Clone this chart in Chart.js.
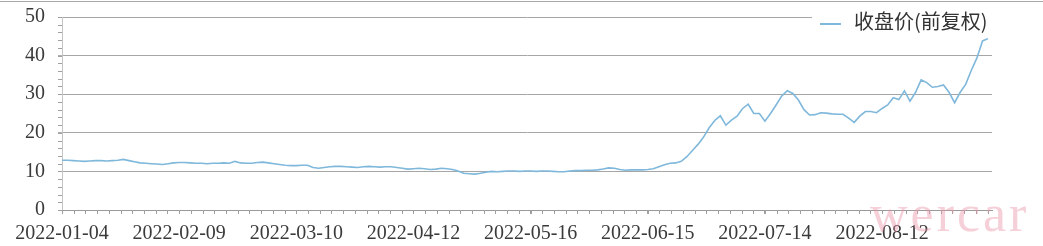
<!DOCTYPE html>
<html lang="zh-CN">
<head>
  <meta charset="UTF-8">
  <title>收盘价(前复权)</title>
  <script src="https://cdn.jsdelivr.net/npm/chart.js"></script>
  <style>
    body { margin: 0; background: #fff; }
    #wrap { position: relative; width: 1043px; height: 246px; overflow: hidden; }
    #topline { position: absolute; left: 0; top: 1px; width: 1043px; height: 0; border-top: 1px solid #a8a8a8; }
    #legend { position: absolute; left: 812px; top: 7px; width: 180px; height: 28px; background: #fff;
              font: 20px "Noto Sans CJK SC", sans-serif; color: #333; line-height: 28px; white-space: nowrap; }
    #legend .swatch { display: inline-block; width: 21px; height: 0; border-top: 2px solid #7fb8db;
                      vertical-align: middle; margin: 0 13px 0 8px; }
    #mark { position: absolute; left: 870px; top: 184px; font: 52px "Liberation Serif", serif;
            letter-spacing: 3px; color: rgba(236, 150, 168, 0.45); }
  </style>
</head>
<body>
<div id="wrap">
  <canvas id="chart" width="1043" height="246"></canvas>
  <div id="topline"></div>
  <div id="legend"><span class="swatch"></span>收盘价(前复权)</div>
  <div id="mark">wercar</div>
</div>

<script>
  // trading days from 2022-01-04, labelled every 21 sessions
  const tickIndex = [0, 21, 42, 63, 84, 105, 126, 147];
  const tickLabels = ['2022-01-04', '2022-02-09', '2022-03-10', '2022-04-12',
                      '2022-05-16', '2022-06-15', '2022-07-14', '2022-08-12'];

  // closing price (forward adjusted), one value per session
  const closes = [
    12.9, 12.9, 12.8, 12.7, 12.6, 12.7, 12.8, 12.8, 12.7, 12.8,
    12.9, 13.1, 12.8, 12.5, 12.2, 12.1, 12.0, 11.9, 11.8, 12.0,
    12.2, 12.3, 12.3, 12.2, 12.1, 12.1, 12.0, 12.1, 12.1, 12.2,
    12.1, 12.6, 12.2, 12.1, 12.1, 12.3, 12.4, 12.2, 12.0, 11.8,
    11.6, 11.5, 11.5, 11.6, 11.6, 11.0, 10.8, 11.0, 11.2, 11.3,
    11.3, 11.2, 11.1, 11.0, 11.2, 11.3, 11.2, 11.1, 11.2, 11.2,
    11.0, 10.8, 10.6, 10.7, 10.8, 10.7, 10.5, 10.6, 10.8, 10.7,
    10.5, 10.1, 9.5, 9.4, 9.3, 9.5, 9.8, 10.0, 9.9, 10.0,
    10.1, 10.1, 10.0, 10.1, 10.1, 10.0, 10.1, 10.1, 10.0, 9.9,
    9.9, 10.1, 10.2, 10.2, 10.3, 10.3, 10.4, 10.6, 10.9, 10.8,
    10.5, 10.3, 10.4, 10.4, 10.4, 10.5, 10.7, 11.2, 11.7, 12.1,
    12.2, 12.6, 13.8, 15.4, 17.0, 18.9, 21.3, 23.2, 24.4, 22.0,
    23.3, 24.3, 26.3, 27.4, 25.0, 25.0, 23.0, 25.0, 27.2, 29.5,
    30.9, 30.2, 28.5, 26.0, 24.6, 24.7, 25.2, 25.1, 24.9, 24.8,
    24.8, 23.8, 22.7, 24.3, 25.5, 25.5, 25.2, 26.3, 27.2, 29.1,
    28.6, 30.9, 28.2, 30.5, 33.7, 33.0, 31.8, 32.0, 32.4, 30.5,
    27.8, 30.5, 32.6, 36.2, 39.4, 43.8, 44.4
  ];

  const yTicks = [0, 10, 20, 30, 40, 50];

  // small ticks between the labelled ones
  const minorTicks = {
    id: 'minorTicks',
    afterDraw(chart) {
      const { ctx, scales: { x, y } } = chart;
      ctx.save();
      ctx.strokeStyle = '#a0a0a0';
      ctx.lineWidth = 1;
      ctx.beginPath();
      for (let v = 0; v <= x.max + 0.01; v += 2.1) {
        const px = Math.round(x.getPixelForValue(v)) + 0.5;
        ctx.moveTo(px, y.bottom);
        ctx.lineTo(px, y.bottom + 4);
      }
      for (let v = 0; v <= 50; v += 2) {
        const py = Math.round(y.getPixelForValue(v)) + 0.5;
        ctx.moveTo(x.left - 4, py);
        ctx.lineTo(x.left, py);
      }
      ctx.stroke();
      ctx.restore();
    }
  };

  new Chart(document.getElementById('chart'), {
    type: 'line',
    data: {
      datasets: [{
        label: '收盘价(前复权)',
        data: closes.map((v, i) => ({ x: i, y: v })),
        borderColor: '#7fb8db',
        borderWidth: 1.6,
        pointRadius: 0,
        tension: 0,
        fill: false
      }]
    },
    options: {
      responsive: false,
      animation: false,
      layout: { padding: { top: 17, right: 51, left: 0, bottom: 0 } },
      plugins: {
        legend: { display: false },
        tooltip: { enabled: false }
      },
      scales: {
        x: {
          type: 'linear',
          min: 0,
          max: 166.7,
          afterBuildTicks: s => { s.ticks = tickIndex.map(v => ({ value: v })); },
          afterFit: s => { s.height = 36; s.paddingLeft = 0; s.paddingRight = 0; },
          grid: { drawOnChartArea: false, drawTicks: true, tickLength: 4, color: '#a0a0a0' },
          border: { color: '#9a9a9a' },
          ticks: {
            autoSkip: false,
            maxRotation: 0,
            padding: 8,
            color: '#3a3a3a',
            font: { family: 'Liberation Serif', size: 20 },
            callback: v => tickLabels[tickIndex.indexOf(v)]
          }
        },
        y: {
          min: 0,
          max: 50,
          afterBuildTicks: s => { s.ticks = yTicks.map(v => ({ value: v })); },
          afterFit: s => { s.width = 62; s.paddingTop = 0; s.paddingBottom = 0; },
          grid: { color: '#a6a6a6', drawTicks: true, tickLength: 4, tickColor: '#b0b0b0' },
          border: { color: '#c4c4c4' },
          ticks: {
            padding: 13,
            color: '#3a3a3a',
            font: { family: 'Liberation Serif', size: 20 }
          }
        }
      }
    },
    plugins: [minorTicks]
  });
</script>
</body>
</html>
